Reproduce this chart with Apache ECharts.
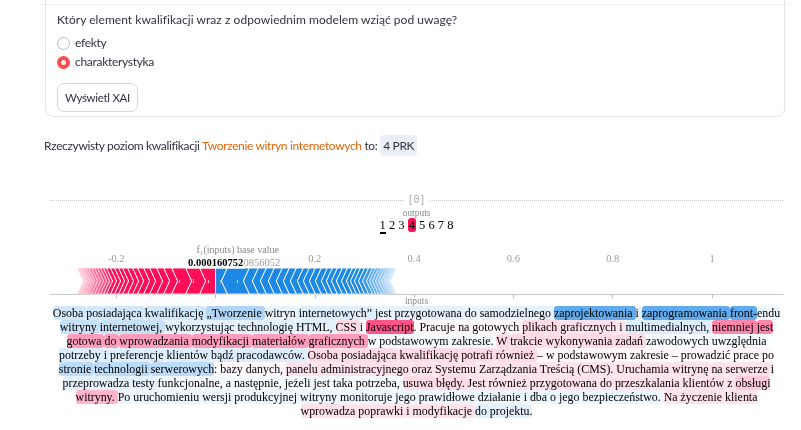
<!DOCTYPE html>
<html><head><meta charset="utf-8">
<script src="https://cdn.jsdelivr.net/npm/echarts@6/dist/echarts.min.js"></script>
<style>
html,body{margin:0;padding:0;background:#fff;}
body{width:801px;height:430px;overflow:hidden;position:relative;font-family:"Lato","Noto Sans",sans-serif;color:#31333f;}
#chart{position:absolute;left:0;top:0;width:801px;height:430px;}
.abs{position:absolute;white-space:nowrap;}
#card{position:absolute;left:45px;top:-8px;width:740px;height:125px;border:1px solid #e4e4e7;border-radius:8px;box-sizing:border-box;}
#topline{position:absolute;left:40px;top:4px;width:750px;height:0;border-top:1px solid #efeff1;}
.radio{position:absolute;width:13px;height:13px;border-radius:50%;box-sizing:border-box;}
#btn{position:absolute;left:57px;top:83px;width:81px;height:29px;border:1px solid #d6d6d9;border-radius:7px;box-sizing:border-box;font-size:11.5px;letter-spacing:-0.3px;line-height:27px;text-align:center;color:#31333f;}
#para{position:absolute;left:40px;width:753px;top:306px;text-align:center;font-family:"Liberation Serif","Times New Roman",serif;font-size:11.9px;line-height:14px;color:#000;white-space:nowrap;}
#para span{border-radius:3px;}
.serif{font-family:"Liberation Serif","Times New Roman",serif;}
</style></head>
<body>
<div id="chart"></div>
<div id="topline"></div>
<div id="card"></div>
<div class="abs" id="question" style="left:57px;top:10px;font-size:12px;letter-spacing:0.05px;line-height:20px;">Który element kwalifikacji wraz z odpowiednim modelem wziąć pod uwagę?</div>
<div class="radio" style="left:57px;top:37px;border:1px solid #b9b9bf;"></div>
<div class="abs" style="left:75px;top:33px;font-size:12px;letter-spacing:-0.3px;line-height:20px;">efekty</div>
<div class="radio" style="left:57px;top:56px;background:#ff4b4b;"><div style="position:absolute;left:4px;top:4px;width:5px;height:5px;border-radius:50%;background:#fff;"></div></div>
<div class="abs" style="left:75px;top:52px;font-size:12px;letter-spacing:-0.3px;line-height:20px;">charakterystyka</div>
<div id="btn">Wyświetl XAI</div>
<div class="abs" style="left:44px;top:136px;font-size:12px;letter-spacing:-0.35px;line-height:20px;">Rzeczywisty poziom kwalifikacji <span style="color:#e2660c;">Tworzenie witryn internetowych</span> to: <span style="background:#e9eef7;border-radius:4px;padding:3px 3px;">4 PRK</span></div>

<div class="abs" style="left:50px;top:200px;width:733px;border-top:1px dotted #c8c8c8;"></div>
<div class="abs" style="left:0;width:833px;top:192px;text-align:center;font-family:'DejaVu Sans Mono',monospace;font-size:10px;line-height:16px;color:#aaa;"><span style="background:#fff;padding:0 4px;">[0]</span></div>
<div class="abs serif" style="left:0;width:833px;top:207px;text-align:center;font-size:9.5px;line-height:12px;color:#888;">outputs</div>
<div class="abs serif" id="outs" style="left:0;width:833px;top:217px;text-align:center;font-size:12.5px;line-height:16px;color:#000;"></div>
<div class="abs serif" style="left:0;width:833px;top:295px;text-align:center;font-size:9.5px;line-height:12px;color:#888;">inputs</div>
<div id="para"></div>

<script>
// ---------- data ----------
const classLabels = ['1','2','3','4','5','6','7','8'];
const selectedClass = '4';
const underlinedClass = '1';

const axisRange = [-0.3333, 1.1433];
const axisTicks = [-0.2, 0, 0.2, 0.4, 0.6, 0.8, 1];
const axisLabels = [-0.2, 0.2, 0.4, 0.6, 0.8, 1];
const baseValue = 0.0856052;
const fxValue = 0.000160752;

// contributions pushing the output higher (red), ordered from f(x) outward
const redEffects = [0.0322, 0.0282, 0.0282, 0.0161, 0.0141, 0.0141, 0.0121, 0.0121, 0.0101, 0.0101, 0.0101,
  0.0081, 0.0081, 0.0081, 0.0081, 0.006, 0.006, 0.006, 0.006, 0.006, 0.006, 0.005, 0.005, 0.005, 0.004, 0.004];
// contributions pushing the output lower (blue), ordered from f(x) outward
const blueEffects = [0.0238, 0.0443, 0.0181, 0.0161, 0.0161, 0.0161, 0.0141, 0.0141, 0.0141, 0.0121, 0.0121,
  0.0121, 0.0121, 0.0101, 0.0101, 0.0101, 0.0101, 0.0101, 0.0081, 0.0081, 0.0081, 0.0081, 0.0081,
  0.006, 0.006, 0.006, 0.006, 0.006, 0.005, 0.005, 0.004, 0.004];
const redSegLabels = ['ı', '1', 'ı'];
const blueSegLabels = [':', 'ı'];

// text tokens and their SHAP values
const tokenText = [
 'Osoba ','posiadająca ','kwalifikację ','„Tworzenie ','witryn ','internetowych” ','jest ','przygotowana ','do ','samodzielnego ','zaprojektowania ','i ','zaprogramowania ','front-','endu ',
 'witryny ','internetowej, ','wykorzystując ','technologię ','HTML, ','CSS ','i ','Javascript','. ','Pracuje ','na ','gotowych ','plikach ','graficznych ','i ','multimedialnych, ','niemniej ','jest ',
 'gotowa ','do ','wprowadzania ','modyfikacji ','materiałów ','graficznych ','w ','podstawowym ','zakresie. ','W ','trakcie ','wykonywania ','zadań ','zawodowych ','uwzględnia ',
 'potrzeby ','i ','preferencje ','klientów ','bądź ','pracodawców. ','Osoba ','posiadająca ','kwalifikację ','potrafi ','również ','– ','w ','podstawowym ','zakresie ','– ','prowadzić ','prace ','po ',
 'stronie ','technologii ','serwerowych',': ','bazy ','danych, ','panelu ','administracyjnego ','oraz ','Systemu ','Zarządzania ','Treścią ','(CMS). ','Uruchamia ','witrynę ','na ','serwerze ','i ',
 'przeprowadza ','testy ','funkcjonalne, ','a ','następnie, ','jeżeli ','jest ','taka ','potrzeba, ','usuwa ','błędy. ','Jest ','również ','przygotowana ','do ','przeszkalania ','klientów ','z ','obsługi ',
 'witryny. ','Po ','uruchomieniu ','wersji ','produkcyjnej ','witryny ','monitoruje ','jego ','prawidłowe ','działanie ','i ','dba ','o ','jego ','bezpieczeństwo. ','Na ','życzenie ','klienta ',
 'wprowadza ','poprawki ','i ','modyfikacje ','do ','projektu.'
];
const tokenShap = [
 -0.02,-0.02,-0.02,-0.035,-0.01,-0.015,-0.01,-0.012,-0.01,-0.012,-0.07,-0.012,-0.07,-0.07,-0.008,
 -0.025,-0.025,-0.012,-0.012,-0.012,0.015,0,0.07,0,0.004,0.004,0.004,0.015,0.012,0.01,-0.015,0.05,0.05,
 0.04,0.04,0.04,0.04,0.04,0.04,-0.004,-0.004,-0.004,0.015,0.015,0.015,0.015,-0.004,-0.004,
 -0.015,-0.015,-0.015,-0.015,-0.015,-0.015,0.015,0.015,0.015,0.015,0.015,0.004,0.004,0.004,0.004,0.004,0.004,0.004,0.004,
 -0.03,-0.03,-0.03,0,0.003,0.003,0.012,0.012,0.012,0.012,0.012,0.012,0.012,0.012,0.012,0.012,0.012,-0.012,
 -0.012,-0.012,-0.005,-0.005,-0.005,-0.005,-0.005,-0.005,-0.005,0.015,0.015,0.012,0.012,0.012,0.012,0.012,0.012,0.012,0.022,
 0.03,-0.008,-0.008,-0.008,-0.008,-0.008,-0.008,-0.008,-0.008,-0.008,-0.008,-0.008,-0.008,-0.008,-0.008,0.012,0.012,0.012,
 0.012,0.012,0.012,0.012,-0.012,-0.012
];
const lineTokenCounts = [15, 18, 15, 19, 18, 19, 18, 6];

// ---------- colours ----------
const RED = [255, 13, 87], BLUE = [30, 136, 229];
const shapMax = 0.1;
function tokenColor(v) {
  const a = Math.min(1, Math.abs(v) / shapMax);
  const c = v >= 0 ? RED : BLUE;
  return 'rgba(' + c[0] + ',' + c[1] + ',' + c[2] + ',' + a.toFixed(3) + ')';
}

// ---------- outputs row ----------
const outs = document.getElementById('outs');
outs.innerHTML = classLabels.map(c => {
  if (c === selectedClass) return '<span style="background:#ff0d57;border-radius:3px;padding:0 1px;">' + c + '</span>';
  if (c === underlinedClass) return '<span style="border-bottom:2px solid #000;">' + c + '</span>';
  return c;
}).join(' ');

// ---------- text plot ----------
const para = document.getElementById('para');
let k = 0;
let html = '';
lineTokenCounts.forEach(n => {
  let line = '';
  for (let i = 0; i < n; i++, k++) {
    const v = tokenShap[k];
    line += '<span style="background:' + tokenColor(v) + ';">' + tokenText[k] + '</span>';
  }
  html += '<div>' + line + '</div>';
});
para.innerHTML = html;

// ---------- force plot ----------
const segData = [];
let cum = 0;
redEffects.forEach((v, i) => { segData.push([fxValue - cum - v, fxValue - cum, 1, i]); cum += v; });
const redStart = fxValue - cum;
cum = 0;
blueEffects.forEach((v, i) => { segData.push([fxValue + cum, fxValue + cum + v, -1, i]); cum += v; });
const blueEnd = fxValue + cum;

const RED_HEX = '#ff0d57', BLUE_HEX = '#1e88e5';
const chart = echarts.init(document.getElementById('chart'), null, {renderer: 'canvas'});
const serif = 'Liberation Serif';
chart.setOption({
  animation: false,
  grid: {left: 50, right: 17.8, top: 268, height: 26},
  xAxis: {
    type: 'value', position: 'top', min: axisRange[0], max: axisRange[1],
    axisLine: {show: true, lineStyle: {color: '#c8c8c8', width: 1}},
    splitLine: {show: false},
    axisTick: {show: true, inside: true, length: 4, customValues: axisTicks, lineStyle: {color: '#bdbdbd'}},
    axisLabel: {customValues: axisLabels, margin: 3, color: '#9a9a9a', fontFamily: serif, fontSize: 10.5,
      formatter: v => String(Math.round(v * 10) / 10)}
  },
  yAxis: {type: 'value', min: 0, max: 1, show: false},
  series: [
    {
      type: 'custom',
      data: segData,
      encode: {x: [0, 1]},
      clip: false,
      renderItem: function (params, api) {
        const x0 = api.value(0), x1 = api.value(1), dir = api.value(2), idx = api.value(3);
        const pTop = api.coord([x0, 1]), pBot = api.coord([x1, 0]);
        const a = pTop[0], b = pBot[0], top = pTop[1], bot = pBot[1], mid = (top + bot) / 2;
        const h = 6;
        let pts, d;
        if (dir > 0) {
          const tip = idx === 0 ? 0 : h;
          pts = [[a, top], [b, top], [b + tip, mid], [b, bot], [a, bot], [a + h, mid]];
          d = (a + b) / 2 - api.coord([redStart, 0])[0];
        } else {
          const tip = idx === 0 ? 0 : h;
          pts = [[a, top], [b, top], [b - h, mid], [b, bot], [a, bot], [a - tip, mid]];
          d = api.coord([blueEnd, 0])[0] - (a + b) / 2;
        }
        const op = 0.18 + 0.82 * Math.max(0, Math.min(1, d / 32));
        const children = [{
          type: 'polygon', shape: {points: pts},
          style: {fill: dir > 0 ? RED_HEX : BLUE_HEX, opacity: op, stroke: '#fff', lineWidth: 0.9}
        }];
        const lbls = dir > 0 ? redSegLabels : blueSegLabels;
        if (idx < lbls.length) {
          children.push({type: 'text', x: (a + b) / 2 + (dir > 0 ? 1 : -1), y: mid,
            style: {text: lbls[idx], fill: '#fff', fontSize: 7, fontFamily: serif, align: 'center', verticalAlign: 'middle'}});
        }
        return {type: 'group', children: children};
      },
      z: 3
    },
    {
      type: 'custom',
      data: [[baseValue, 0], [fxValue, 1]],
      encode: {x: 0},
      clip: false,
      renderItem: function (params, api) {
        const p = api.coord([api.value(0), 1]);
        const isFx = api.value(1) === 1;
        const top = p[1];
        const children = [];
        if (isFx) {
          children.push({type: 'text', x: p[0], y: top - 18, style: {text: 'f\u2081(inputs)', fill: '#888', fontSize: 10, fontFamily: serif, align: 'center', verticalAlign: 'middle'}});
          children.push({type: 'text', x: p[0], y: top - 5, style: {text: String(fxValue), fill: '#000', fontSize: 10.5, fontWeight: 'bold', fontFamily: serif, align: 'center', verticalAlign: 'middle', backgroundColor: '#fff', padding: [0, 1]}});
        } else {
          children.push({type: 'text', x: p[0], y: top - 18, style: {text: 'base value', fill: '#888', fontSize: 10, fontFamily: serif, align: 'center', verticalAlign: 'middle'}});
          children.push({type: 'text', x: p[0], y: top - 5, style: {text: String(baseValue), fill: '#9a9a9a', fontSize: 10.5, fontFamily: serif, align: 'center', verticalAlign: 'middle'}});
        }
        return {type: 'group', children: children};
      },
      z: 5
    }
  ]
});
</script>
</body></html>
